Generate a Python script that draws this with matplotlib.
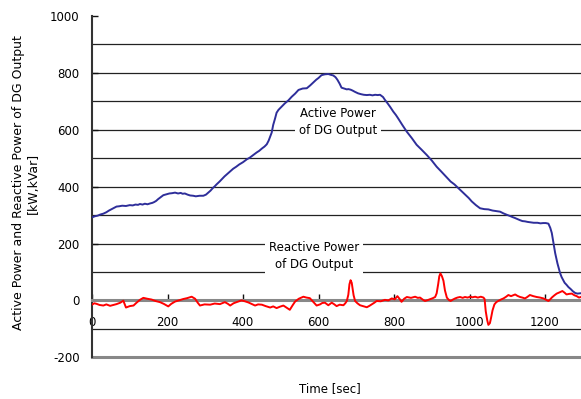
import matplotlib
matplotlib.use("Agg")
import matplotlib.pyplot as plt

plt.rcParams["axes.unicode_minus"] = False

# ---- data ----
active_t = [0, 8, 15, 22, 30, 38, 45, 55, 65, 72, 80, 90, 100, 108, 115, 122, 127, 134, 140, 147, 154, 160, 165, 170,
            175, 182, 189, 197, 205, 212, 220, 228, 235, 240, 246, 253, 260, 268, 275, 285, 295, 302, 308, 314, 320,
            325, 330, 338, 345, 351, 357, 365, 374, 382, 390, 400, 410, 418, 425, 430, 436, 443, 450, 457, 463, 468,
            472, 476, 480, 485, 489, 494, 502, 511, 520, 529, 538, 547, 558, 569, 578, 586, 594, 600, 608, 617, 626,
            633, 639, 645, 650, 656, 661, 668, 675, 679, 685, 690, 697, 705, 713, 720, 728, 736, 743, 750, 757, 763,
            771, 776, 783, 790, 798, 805, 811, 822, 834, 847, 860, 873, 887, 900, 913, 926, 940, 950, 960, 968, 975,
            983, 990, 998, 1006, 1017, 1028, 1039, 1050, 1061, 1072, 1081, 1090, 1099, 1107, 1114, 1120, 1127, 1134,
            1140, 1147, 1154, 1160, 1170, 1180, 1188, 1195, 1202, 1209, 1214, 1218, 1222, 1227, 1233, 1240, 1244,
            1248, 1252, 1257, 1262, 1268, 1274, 1280, 1286, 1293, 1300]
active_v = [292, 296, 298, 302, 305, 310, 316, 323, 330, 331, 333, 332, 335, 334, 337, 336, 339, 337, 340, 338, 341,
            343, 346, 350, 356, 363, 370, 373, 376, 377, 379, 376, 378, 375, 376, 372, 369, 368, 366, 368, 368, 372,
            379, 386, 395, 401, 408, 418, 428, 436, 443, 452, 463, 470, 478, 486, 496, 502, 509, 514, 520, 526, 534,
            541, 549, 562, 576, 590, 617, 640, 660, 670, 681, 693, 703, 716, 727, 740, 745, 746, 756, 766, 776, 782,
            792, 795, 796, 793, 791, 785, 776, 762, 748, 745, 742, 743, 741, 738, 733, 728, 725, 723, 722, 723, 721,
            723, 722, 723, 715, 705, 693, 680, 664, 652, 640, 617, 593, 571, 547, 530, 511, 492, 470, 452, 432, 418,
            408, 398, 389, 379, 370, 360, 348, 335, 324, 321, 320, 316, 314, 312, 306, 301, 297, 293, 290, 286, 282,
            279, 278, 276, 275, 273, 273, 271, 272, 272, 270, 255, 237, 205, 166, 130, 96, 82, 72, 62, 55, 47, 40,
            32, 26, 24, 25, 26]

reactive_t = [0, 6, 12, 20, 30, 38, 48, 56, 65, 75, 83, 90, 100, 110, 118, 127, 136, 146, 158, 168, 180, 190, 202,
              210, 220, 230, 242, 252, 264, 273, 280, 286, 298, 313, 325, 339, 352, 360, 366, 375, 383, 396, 405,
              414, 422, 432, 440, 450, 460, 472, 480, 489, 498, 507, 515, 524, 531, 538, 548, 560, 568, 577, 586,
              595, 604, 610, 617, 626, 635, 641, 648, 656, 666, 671, 675, 679, 682, 685, 688, 690, 693, 697, 703,
              710, 718, 728, 735, 741, 748, 754, 765, 776, 785, 794, 802, 809, 815, 820, 827, 834, 845, 856, 863,
              869, 876, 882, 889, 895, 903, 909, 913, 917, 920, 923, 927, 931, 935, 940, 945, 950, 956, 962, 968,
              975, 982, 988, 995, 1002, 1008, 1015, 1022, 1030, 1037, 1040, 1043, 1047, 1050, 1054, 1057, 1061,
              1066, 1071, 1076, 1083, 1090, 1096, 1103, 1110, 1121, 1127, 1134, 1140, 1147, 1153, 1160, 1169,
              1178, 1187, 1196, 1203, 1209, 1214, 1218, 1225, 1231, 1238, 1246, 1252, 1257, 1264, 1271, 1278,
              1284, 1290, 1295, 1300]
reactive_v = [-15, -10, -12, -16, -18, -14, -19, -16, -13, -8, -1, -25, -20, -18, -8, 2, 9, 6, 3, -2, -6, -12, -21,
              -12, -4, 0, 5, 8, 13, 6, -8, -18, -14, -15, -11, -13, -6, -12, -18, -10, -6, 0, -3, -7, -12, -18,
              -14, -15, -20, -25, -21, -27, -22, -18, -25, -33, -18, -4, 6, 13, 10, 8, -5, -18, -14, -9, -8, -17,
              -8, -13, -20, -15, -17, -10, -2, 20, 57, 71, 62, 45, 18, -2, -10, -17, -20, -24, -19, -14, -8, -2,
              -3, 2, 0, 7, 4, 15, 5, -5, 6, 12, 9, 13, 9, 10, 3, -2, 1, 4, 8, 12, 25, 57, 85, 95, 85, 69, 35, 10,
              2, -2, 3, 7, 10, 12, 9, 12, 10, 13, 11, 13, 10, 13, 10, 5, -38, -70, -86, -80, -62, -35, -14, -6,
              -2, 3, 7, 12, 19, 15, 21, 16, 12, 10, 7, 12, 19, 15, 12, 10, 7, 2, -2, 4, 10, 18, 24, 28, 33, 27, 21,
              23, 24, 18, 15, 10, 12, 14]

x_ticks = [0, 200, 400, 600, 800, 1000, 1200]
y_ticks = [-200, 0, 200, 400, 600, 800, 1000]
grid_levels = [-100, 100, 200, 300, 400, 500, 600, 700, 800, 900]

# ---- figure ----
W, H = 581, 399
fig = plt.figure(figsize=(W / 100, H / 100), dpi=100)
left = 92 / W
bottom = 1 - 357.3 / H
top = 1 - 16 / H
width = (1300 * 0.3775) / W
ax = fig.add_axes([left, bottom, width, top - bottom])
ax.set_xlim(0, 1300)
ax.set_ylim(-200, 1000)

for g in grid_levels:
    ax.axhline(g, color="#222222", lw=0.9, zorder=1)
ax.axhline(-200, color="#888888", lw=2.2, zorder=2, clip_on=False)

blue = "#2E2E9A"
red = "#FF0000"
ax.plot(active_t, active_v, color=blue, lw=1.4, zorder=4)
ax.plot(reactive_t, reactive_v, color=red, lw=1.4, zorder=4)

for s in ["top", "right"]:
    ax.spines[s].set_visible(False)
ax.spines["left"].set_color("#333333")
ax.spines["left"].set_linewidth(1.5)
ax.spines["bottom"].set_position(("data", 0))
ax.spines["bottom"].set_color("#888888")
ax.spines["bottom"].set_linewidth(2.2)
ax.spines["bottom"].set_zorder(3)

ax.set_xticks(x_ticks)
ax.set_yticks(y_ticks)
ax.tick_params(axis="x", direction="in", length=4, width=1, color="#111111", pad=11, labelsize=8.5)
ax.tick_params(axis="y", direction="in", length=4, width=1, color="#111111", pad=9, labelsize=8.5)

bbox = dict(boxstyle="square,pad=0.35", fc="white", ec="none")
ax.text(652, 627, "Active Power\nof DG Output", ha="center", va="center", fontsize=8.5,
        linespacing=1.45, bbox=bbox, zorder=5)
ax.text(588, 156, "Reactive Power\nof DG Output", ha="center", va="center", fontsize=8.5,
        linespacing=1.45, bbox=dict(boxstyle="square,pad=0.3", fc="white", ec="none"), zorder=5)

fig.text(26 / W, 1 - 183 / H, "Active Power and Reactive Power of DG Output\n[kW,kVar]",
         rotation=90, ha="center", va="center", fontsize=9, linespacing=1.2, multialignment="center")
fig.text(330 / W, 1 - 389 / H, "Time [sec]", ha="center", va="center", fontsize=8.5)

fig.savefig("out.png", dpi=100)
